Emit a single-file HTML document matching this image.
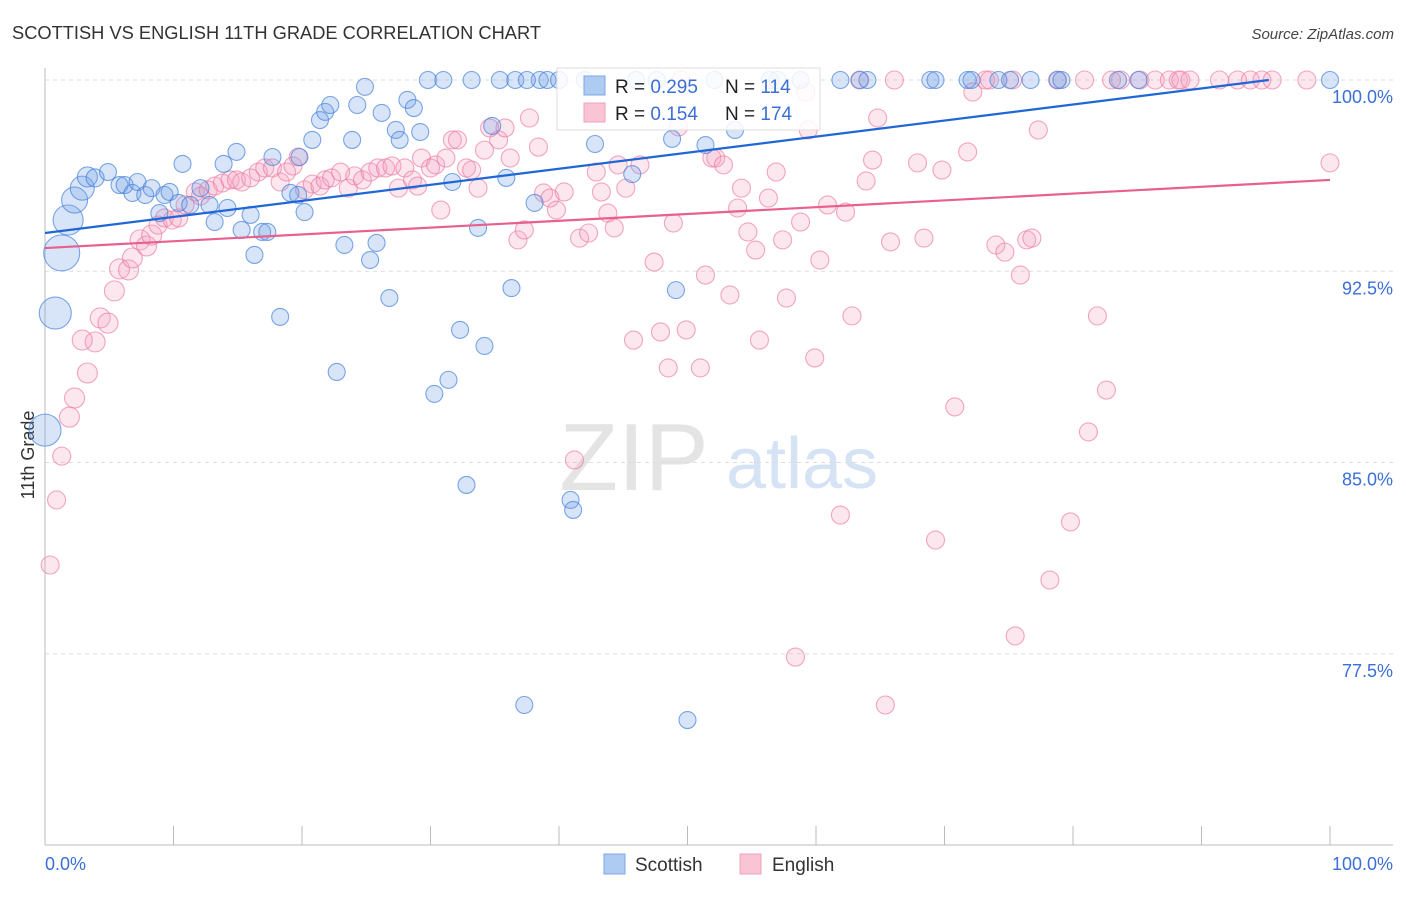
<!DOCTYPE html>
<html><head><meta charset="utf-8"><style>
body{margin:0;background:#fff;font-family:"Liberation Sans",sans-serif;}
svg text{font-family:"Liberation Sans",sans-serif;}
</style></head><body>
<svg id="chart" width="1406" height="892" viewBox="0 0 1406 892" xmlns="http://www.w3.org/2000/svg">
<text x="12" y="39" font-size="18" fill="#333" textLength="529" lengthAdjust="spacingAndGlyphs">SCOTTISH VS ENGLISH 11TH GRADE CORRELATION CHART</text>
<text x="1394" y="39" font-size="15" fill="#444" text-anchor="end" font-style="italic">Source: ZipAtlas.com</text>
<g>
<text x="634" y="490" font-size="96" fill="#e4e4e4" text-anchor="middle" font-family="Liberation Serif,serif">ZIP</text>
<text x="802" y="488" font-size="72" fill="#d6e3f5" text-anchor="middle">atlas</text>
</g>
<g id="grid"></g>
<line x1="45" y1="845" x2="1393" y2="845" stroke="#bbb"/>
<line x1="45" y1="68" x2="45" y2="845" stroke="#bbb"/>
<g id="ticks"></g>
<g id="ylabels"></g>
<text x="45" y="870" font-size="18" fill="#3b6fd6">0.0%</text>
<text x="1393" y="870" font-size="18" fill="#3b6fd6" text-anchor="end">100.0%</text>
<text transform="translate(34,455) rotate(-90)" font-size="18" fill="#333" text-anchor="middle">11th Grade</text>
<g id="pink"></g>
<g id="blue"></g>
<g id="trends"></g>
<g>
<rect x="557" y="68" width="263" height="62" fill="#fff" fill-opacity="0.85" stroke="#ddd"/>
<rect x="584" y="76" width="21" height="19" fill="#aecbf2" stroke="#7fa6e6"/>
<rect x="584" y="103" width="21" height="19" fill="#f9c4d4" stroke="#f2a2ba"/>
<text x="615" y="93" font-size="19" fill="#222">R = <tspan fill="#3b6fd6">0.295</tspan></text>
<text x="725" y="93" font-size="19" fill="#222">N = <tspan fill="#3b6fd6">114</tspan></text>
<text x="615" y="120" font-size="19" fill="#222">R = <tspan fill="#3b6fd6"> 0.154</tspan></text>
<text x="725" y="120" font-size="19" fill="#222">N = <tspan fill="#3b6fd6">174</tspan></text>
</g>
<g>
<rect x="604" y="854" width="21" height="20" fill="#aecbf2" stroke="#7fa6e6"/>
<text x="635" y="871" font-size="19" fill="#333">Scottish</text>
</g>
<g>
<rect x="740" y="854" width="21" height="20" fill="#f9c4d4" stroke="#f2a2ba"/>
<text x="772" y="871" font-size="19" fill="#333">English</text>
</g>
</svg>
<script>
const yTicks=[100,92.5,85,77.5];
const yTickLabels=["100.0%","92.5%","85.0%","77.5%"];
const xTicks=[0,10,20,30,40,50,60,70,80,90,100];
const blueX=[1.3,0.8,0,1.8,2.3,2.9,3.3,3.9,4.9,5.8,6.2,6.8,7.2,7.8,8.3,8.9,9.3,9.7,10.4,10.7,11.3,12.1,12.8,13.2,13.9,14.2,14.9,15.3,16.0,16.3,16.9,17.3,17.7,18.3,19.1,19.7,19.8,20.2,20.8,21.4,21.8,22.2,22.7,23.3,23.9,24.3,24.9,25.3,25.8,26.2,26.8,27.3,27.6,28.2,28.7,29.2,29.8,30.3,31.0,31.4,31.7,32.3,32.8,33.2,33.7,34.2,34.8,35.4,35.9,36.3,36.6,37.3,38.1,38.5,39.1,40.9,41.1,42.0,42.8,45.7,47.6,48.8,49.1,50.0,51.4,52.1,53.7,56.4,58.8,61.9,63.4,64.0,68.9,69.3,71.8,72.1,74.2,75.1,76.7,78.8,79.1,83.5,85.1,100,37.5,40.0,46.0,57.0];
const blueY=[93.22,90.86,86.27,94.51,95.29,95.76,96.2,96.16,96.39,95.88,95.88,95.57,96.0,95.49,95.76,94.78,95.49,95.61,95.18,96.71,95.1,95.76,95.1,94.43,96.71,94.98,97.18,94.12,94.71,93.14,94.04,94.04,96.98,90.71,95.57,95.49,96.98,94.82,97.65,98.43,98.75,99.02,88.55,93.53,97.65,99.02,99.73,92.94,93.61,98.71,91.45,98.04,97.65,99.22,98.9,97.96,100,87.69,100,88.24,96.0,90.2,84.12,100,94.2,89.57,98.2,100,96.16,91.84,100,75.49,95.18,100,100,83.53,83.14,100,97.49,96.31,100,97.69,91.76,74.9,97.45,100,98.04,100,100,100,100,100,100,100,100,100,100,100,100,100,100,100,100,100,100,100,100,100];
const blueSize=[18,16,16,15,13,12,10,9];
const pinkX=[0.4,0.9,1.3,1.9,2.3,3.3,3.9,2.9,4.3,4.9,5.4,5.8,6.5,6.8,7.4,7.9,8.3,8.8,9.3,9.9,10.4,10.9,11.7,12.1,12.7,13.2,13.8,14.4,14.9,15.3,16.0,16.6,17.1,17.7,18.3,18.8,19.3,19.7,20.2,20.8,21.4,21.8,22.3,23.0,23.6,24.1,24.7,25.3,25.9,26.5,27.0,27.5,28.0,28.6,29.0,29.3,30.0,30.4,30.8,31.2,31.7,32.1,32.8,33.2,33.7,34.2,34.6,35.3,35.8,36.2,36.8,37.3,37.7,38.4,38.8,39.3,39.8,40.4,41.2,41.6,42.3,42.9,43.3,43.8,44.3,44.6,45.2,45.8,46.3,47.4,47.9,48.5,48.9,49.3,49.9,51.0,51.4,51.9,52.2,52.8,53.3,53.9,54.2,54.7,55.3,55.6,56.3,56.9,57.4,57.7,58.4,58.8,59.4,59.9,60.3,60.9,61.9,62.3,62.8,63.4,63.9,64.4,64.8,65.4,65.8,66.1,67.9,68.4,69.3,69.8,70.8,71.8,72.2,73.2,73.5,74.0,74.7,75.3,75.5,75.9,76.4,76.8,77.3,78.2,78.8,79.8,80.9,81.2,81.9,82.6,83.0,83.7,85.2,86.4,87.5,88.2,88.4,89.1,91.4,92.8,93.8,94.7,95.5,98.2,100,49.5,59.2];
const pinkY=[80.98,83.53,85.25,86.78,87.53,88.51,89.73,89.8,90.67,90.47,91.73,92.59,92.55,93.02,93.73,93.49,93.92,94.31,94.59,94.51,94.59,95.1,95.61,95.45,95.69,95.84,95.96,96.08,96.08,96.0,96.16,96.39,96.55,96.55,96.0,96.39,96.63,96.98,95.69,95.92,95.84,96.08,96.16,96.39,95.76,96.24,96.08,96.39,96.55,96.55,96.63,95.76,96.55,96.08,95.84,96.94,96.55,96.67,94.9,96.94,97.65,97.65,96.55,96.47,95.76,97.25,98.12,97.65,98.12,96.94,93.73,94.12,98.51,97.37,95.57,95.37,94.9,95.61,85.1,93.8,94.0,96.39,95.61,94.78,94.2,96.67,95.76,89.8,96.67,92.86,90.12,88.71,94.39,98.16,90.2,88.71,92.35,96.94,96.94,96.67,91.57,94.98,95.76,94.04,93.33,89.8,95.37,96.39,93.73,91.45,77.37,94.43,98.04,89.1,92.94,95.1,82.94,94.82,90.75,100,96.04,96.86,98.51,75.49,93.65,100,96.75,93.8,81.96,96.47,87.18,97.18,99.53,100,100,93.53,93.25,100,78.2,92.35,93.73,93.8,98.04,80.39,100,82.67,100,86.2,90.75,87.84,100,100,100,100,100,100,100,100,100,100,100,100,100,100,96.75,100,99.53];
const pinkSize=[9,9,9,10,10,10,10,10,10,10,10,10,10,10,10,10,10];
const blueTrend=[94.0,0.063];
const pinkTrend=[93.41,0.0267];

const NS="http://www.w3.org/2000/svg";
function xs(v){return 45+v*12.85;}
function ys(v){return 80+(100-v)*25.5;}
function mk(tag,attrs,parent){const e=document.createElementNS(NS,tag);for(const k in attrs)e.setAttribute(k,attrs[k]);parent.appendChild(e);return e;}
const grid=document.getElementById('grid'),ticks=document.getElementById('ticks'),yl=document.getElementById('ylabels');
yTicks.forEach((t,i)=>{
  const l=mk('line',{x1:45,x2:1393,y1:ys(t),y2:ys(t),stroke:'#ddd','stroke-dasharray':'4,4'},grid);
  
  
  const tx=mk('text',{x:1393,y:ys(t)+23,'font-size':18,fill:'#3b6fd6','text-anchor':'end'},yl);
  tx.textContent=yTickLabels[i];
  
  
});
xTicks.forEach(t=>{
  const l=mk('line',{x1:xs(t),x2:xs(t),y1:826,y2:845,stroke:'#bbb'},ticks);
  
  
});
const pg=document.getElementById('pink');
pinkX.forEach((x,i)=>{
  const c=mk('circle',{cx:xs(x),cy:ys(pinkY[i]),r:pinkSize[i]||9,fill:'rgba(245,160,190,0.25)',stroke:'rgba(236,120,160,0.65)','stroke-width':1.1},pg);
  
  
});
const bg=document.getElementById('blue');
blueX.forEach((x,i)=>{
  const c=mk('circle',{cx:xs(x),cy:ys(blueY[i]),r:blueSize[i]||8.5,fill:'rgba(110,160,230,0.27)',stroke:'rgba(70,130,220,0.7)','stroke-width':1.1},bg);
  
  
});
const tg=document.getElementById('trends');
const bEnd=Math.min(100,(100-blueTrend[0])/blueTrend[1]);
const bl=mk('line',{x1:xs(0),y1:ys(blueTrend[0]),x2:xs(bEnd),y2:ys(blueTrend[0]+blueTrend[1]*bEnd),stroke:'#1f66d6','stroke-width':2.2},tg);


const pl=mk('line',{x1:xs(0),y1:ys(pinkTrend[0]),x2:xs(100),y2:ys(pinkTrend[0]+pinkTrend[1]*100),stroke:'#e8608e','stroke-width':2.2},tg);


</script>
</body></html>
